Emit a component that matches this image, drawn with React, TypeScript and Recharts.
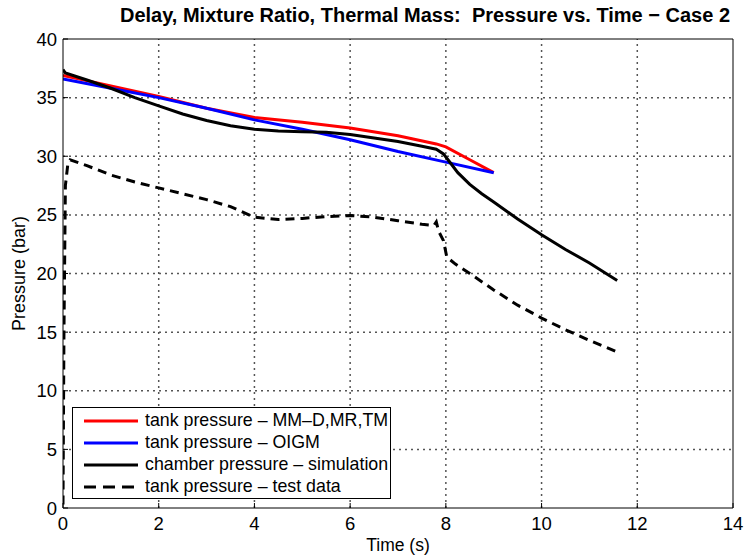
import { Line, LineChart, XAxis, YAxis } from 'recharts';

const FONT = '"Liberation Sans", Arial, sans-serif';

const xTicks = [0, 2, 4, 6, 8, 10, 12, 14];
const yTicks = [0, 5, 10, 15, 20, 25, 30, 35, 40];

// tank pressure - MM-D,MR,TM
const redT = [0, 1, 2, 3, 4, 5, 6, 7, 7.8, 8, 8.5, 9];
const redP = [36.9, 36.0, 35.1, 34.1, 33.3, 32.9, 32.4, 31.75, 31.05, 30.8, 29.7, 28.6];

// tank pressure - OIGM
const blueT = [0, 1, 2, 3, 4, 5, 6, 7, 8, 9];
const blueP = [36.6, 35.8, 35.0, 34.1, 33.1, 32.3, 31.4, 30.4, 29.5, 28.6];

// chamber pressure - simulation
const simT = [0, 0.05, 0.5, 1, 1.5, 2, 2.5, 3, 3.5, 4, 4.5, 5, 5.5, 6, 6.5, 7, 7.5, 7.8, 7.95, 8.1, 8.25, 8.5, 8.75, 9, 9.5, 10, 10.5, 11, 11.58];
const simP = [37.4, 37.1, 36.5, 35.8, 35.0, 34.3, 33.6, 33.05, 32.6, 32.3, 32.15, 32.1, 32.05, 31.85, 31.55, 31.25, 30.85, 30.6, 30.2, 29.4, 28.6, 27.6, 26.8, 26.1, 24.65, 23.3, 22.05, 20.9, 19.4];

// tank pressure - test data
const testT = [0, 0.02, 0.05, 0.1, 0.15, 0.5, 1, 1.5, 2, 2.5, 3, 3.5, 4, 4.5, 5, 5.5, 6, 6.5, 7, 7.5, 7.75, 7.8, 7.85, 7.95, 8.02, 8.2, 8.5, 9, 9.5, 10, 10.5, 11, 11.58];
const testP = [0.3, 15, 27.5, 29.3, 29.7, 29.2, 28.4, 27.8, 27.3, 26.8, 26.3, 25.7, 24.8, 24.6, 24.7, 24.85, 24.95, 24.8, 24.5, 24.2, 24.1, 24.4, 23.6, 22.8, 21.4, 20.8, 20.0, 18.6, 17.3, 16.2, 15.2, 14.3, 13.3];

const toRows = (ts: number[], ps: number[]) => ts.map((t, i) => ({ t, p: ps[i] }));

const series = [
  { name: 'tank pressure \u2013 MM\u2013D,MR,TM', color: '#ff0000', dash: undefined, data: toRows(redT, redP) },
  { name: 'tank pressure \u2013 OIGM', color: '#0000ff', dash: undefined, data: toRows(blueT, blueP) },
  { name: 'chamber pressure \u2013 simulation', color: '#000000', dash: undefined, data: toRows(simT, simP) },
  { name: 'tank pressure \u2013 test data', color: '#000000', dash: '9 6', data: toRows(testT, testP) },
];

// dotted grid lines, one per inner tick
const xMin = xTicks[0];
const xMax = xTicks[xTicks.length - 1];
const yMin = yTicks[0];
const yMax = yTicks[yTicks.length - 1];
const gridLines = [
  ...xTicks.slice(1, -1).map((t) => ({ key: `gx${t}`, data: [{ t, p: yMin }, { t, p: yMax }] })),
  ...yTicks.slice(1, -1).map((p) => ({ key: `gy${p}`, data: [{ t: xMin, p }, { t: xMax, p }] })),
];

const tickStyle = { fontFamily: FONT, fontSize: 18.5, fill: '#000' };

const LegendBox = () => (
  <div
    style={{
      position: 'absolute',
      left: 72,
      top: 407,
      width: 319,
      height: 92,
      border: '1.5px solid #000',
      background: '#fff',
      fontFamily: FONT,
      fontSize: 17.8,
      boxSizing: 'border-box',
    }}
  >
    {series.map((s, i) => (
      <div key={s.name} style={{ position: 'absolute', left: 10, top: 1.5 + i * 22, height: 22, display: 'flex', alignItems: 'center' }}>
        <svg width={56} height={10}>
          <line x1={1} y1={5} x2={55} y2={5} stroke={s.color} strokeWidth={3} strokeDasharray={s.dash ? '12 7' : undefined} />
        </svg>
        <span style={{ marginLeft: 6, whiteSpace: 'nowrap' }}>{s.name}</span>
      </div>
    ))}
  </div>
);

export default function App() {
  return (
    <div style={{ position: 'absolute', left: 0, top: 0, width: 746, height: 558, background: '#fff' }}>
      <div
        style={{
          position: 'absolute',
          left: 0,
          width: 850,
          top: 4,
          textAlign: 'center',
          fontFamily: FONT,
          fontWeight: 'bold',
          fontSize: 20,
          whiteSpace: 'nowrap',
        }}
      >
        Delay, Mixture Ratio, Thermal Mass:&nbsp; Pressure vs. Time {'\u2212'} Case 2
      </div>
      <LineChart width={746} height={558} margin={{ top: 38, right: 12, bottom: 20, left: 13 }}>
        <XAxis
          xAxisId="b"
          dataKey="t"
          type="number"
          domain={[xMin, xMax]}
          ticks={xTicks}
          allowDataOverflow
          height={30}
          tickSize={-5}
          tickMargin={14}
          tick={tickStyle}
          stroke="#000"
          label={{ value: 'Time (s)', position: 'insideBottom', offset: -13, style: { fontFamily: FONT, fontSize: 17.5, fill: '#000' } }}
        />
        <XAxis xAxisId="t" orientation="top" dataKey="t" type="number" domain={[xMin, xMax]} ticks={xTicks} height={1} tickSize={-5} tick={false} stroke="#000" />
        <YAxis
          yAxisId="l"
          type="number"
          domain={[yMin, yMax]}
          ticks={yTicks}
          width={50}
          tickSize={-5}
          tickMargin={11}
          tick={tickStyle}
          stroke="#000"
          label={{ value: 'Pressure (bar)', angle: -90, position: 'insideLeft', offset: 6, style: { textAnchor: 'middle', fontFamily: FONT, fontSize: 18, fill: '#000' } }}
        />
        <YAxis yAxisId="r" orientation="right" type="number" domain={[yMin, yMax]} ticks={yTicks} width={1} tickSize={-5} tick={false} stroke="#000" />
        {gridLines.map((g) => (
          <Line
            key={g.key}
            xAxisId="b"
            yAxisId="l"
            data={g.data}
            dataKey="p"
            type="linear"
            stroke="#555"
            strokeWidth={1.5}
            strokeDasharray="2 4"
            dot={false}
            activeDot={false}
            legendType="none"
            isAnimationActive={false}
          />
        ))}
        {series.map((s) => (
          <Line
            key={s.name}
            xAxisId="b"
            yAxisId="l"
            data={s.data}
            dataKey="p"
            name={s.name}
            type="linear"
            stroke={s.color}
            strokeWidth={3}
            strokeDasharray={s.dash}
            dot={false}
            activeDot={false}
            isAnimationActive={false}
          />
        ))}
      </LineChart>
      <LegendBox />
    </div>
  );
}
